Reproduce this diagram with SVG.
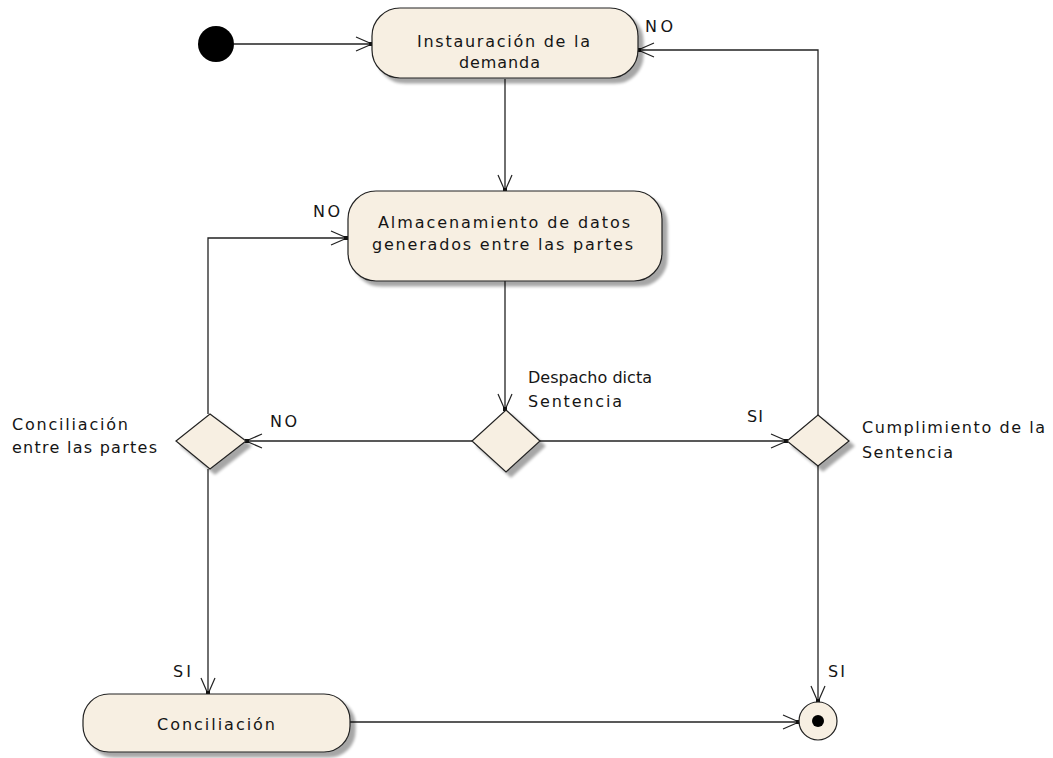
<svg xmlns="http://www.w3.org/2000/svg" width="1053" height="758" viewBox="0 0 1053 758">
  <defs>
    <filter id="shadow" x="-10%" y="-10%" width="130%" height="140%">
      <feGaussianBlur in="SourceAlpha" stdDeviation="1.5"/>
      <feOffset dx="5" dy="5" result="off"/>
      <feComponentTransfer><feFuncA type="linear" slope="0.35"/></feComponentTransfer>
      <feMerge><feMergeNode/><feMergeNode in="SourceGraphic"/></feMerge>
    </filter>
    <marker id="open" viewBox="-17 -8 19 16" refX="0" refY="0" markerWidth="19" markerHeight="16" markerUnits="userSpaceOnUse" orient="auto">
      <path d="M -16,-7 L 0,0 L -16,7" fill="none" stroke="#222" stroke-width="1.2"/>
      <rect x="-3" y="-2" width="4" height="4" fill="#111"/>
    </marker>
  </defs>
  <style>
    .node { fill: #f7efe2; stroke: #222; stroke-width: 1.2; }
    .edge { fill: none; stroke: #222; stroke-width: 1.3; marker-end: url(#open); }
    text { font-family: "DejaVu Sans", "Liberation Sans", sans-serif; font-size: 16px; fill: #151515; }
  </style>
  <rect width="1053" height="758" fill="#ffffff"/>

  <!-- connectors -->
  <g id="connectors">
    <path class="edge" d="M 234,44 L 372,44"/>
    <path class="edge" d="M 505,79 L 505,191"/>
    <path class="edge" d="M 505,281 L 505,410"/>
    <path class="edge" d="M 472,441 L 246,441"/>
    <path class="edge" d="M 540,441 L 787,441"/>
    <path class="edge" d="M 818,415 L 818,50 L 638,50"/>
    <path class="edge" d="M 208,414 L 208,238 L 347,238"/>
    <path class="edge" d="M 208,469 L 208,694"/>
    <path class="edge" d="M 818,466 L 818,702"/>
    <path class="edge" d="M 350,722 L 799,722"/>
    <text x="645" y="32" textLength="28" lengthAdjust="spacing">NO</text>
    <text x="313" y="217" textLength="27" lengthAdjust="spacing">NO</text>
    <text x="270" y="427" textLength="27" lengthAdjust="spacing">NO</text>
    <text x="747" y="422" textLength="16" lengthAdjust="spacing">SI</text>
    <text x="173" y="677" textLength="18" lengthAdjust="spacing">SI</text>
    <text x="828" y="677" textLength="17" lengthAdjust="spacing">SI</text>
  </g>

  <!-- start -->
  <g id="start">
    <circle cx="216" cy="44" r="18" fill="#000"/>
  </g>

  <!-- Instauración de la demanda -->
  <g id="instauracion">
    <rect class="node" x="372" y="8" width="266" height="70" rx="28" filter="url(#shadow)"/>
    <text x="417" y="47" textLength="173" lengthAdjust="spacing">Instauración de la</text>
    <text x="459" y="68" textLength="81" lengthAdjust="spacing">demanda</text>
  </g>

  <!-- Almacenamiento de datos -->
  <g id="almacenamiento">
    <rect class="node" x="348" y="191" width="314" height="90" rx="28" filter="url(#shadow)"/>
    <text x="378" y="228" textLength="252" lengthAdjust="spacing">Almacenamiento de datos</text>
    <text x="372" y="250" textLength="261" lengthAdjust="spacing">generados entre las partes</text>
  </g>

  <!-- Despacho dicta Sentencia -->
  <g id="despacho">
    <polygon class="node" points="506,410 540,441 506,472 472,441" filter="url(#shadow)"/>
    <text x="528" y="383" textLength="124" lengthAdjust="spacing">Despacho dicta</text>
    <text x="528" y="407" textLength="94" lengthAdjust="spacing">Sentencia</text>
  </g>

  <!-- Conciliación entre las partes -->
  <g id="conciliacion-partes">
    <polygon class="node" points="210,414 246,441 210,469 176,441" filter="url(#shadow)"/>
    <text x="12" y="430" textLength="116" lengthAdjust="spacing">Conciliación</text>
    <text x="12" y="453" textLength="145" lengthAdjust="spacing">entre las partes</text>
  </g>

  <!-- Cumplimiento de la Sentencia -->
  <g id="cumplimiento">
    <polygon class="node" points="818,415 849,441 818,466 787,441" filter="url(#shadow)"/>
    <text x="862" y="433" textLength="183" lengthAdjust="spacing">Cumplimiento de la</text>
    <text x="862" y="458" textLength="91" lengthAdjust="spacing">Sentencia</text>
  </g>

  <!-- Conciliación -->
  <g id="conciliacion">
    <rect class="node" x="83" y="694" width="267" height="58" rx="26" filter="url(#shadow)"/>
    <text x="157" y="730" textLength="118" lengthAdjust="spacing">Conciliación</text>
  </g>

  <!-- end -->
  <g id="end">
    <circle class="node" cx="818" cy="721" r="19"/>
    <circle cx="818" cy="721" r="6" fill="#000"/>
  </g>
</svg>
